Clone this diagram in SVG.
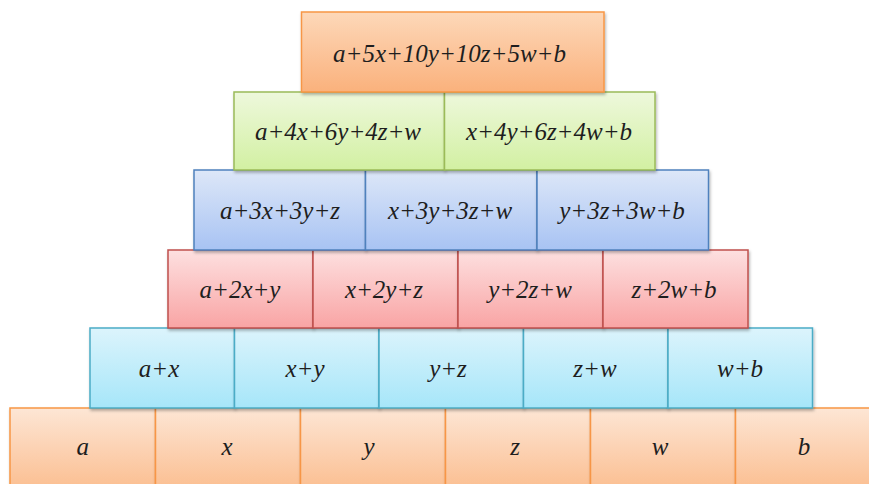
<svg xmlns="http://www.w3.org/2000/svg" width="869" height="484" viewBox="0 0 869 484">
<defs>
<linearGradient id="gOr" x1="0" y1="0" x2="0" y2="1"><stop offset="0" stop-color="#fde6d5"/><stop offset="1" stop-color="#fbbf92"/></linearGradient>
<linearGradient id="gOrTop" x1="0" y1="0" x2="0" y2="1"><stop offset="0" stop-color="#fdd8b9"/><stop offset="1" stop-color="#fab17c"/></linearGradient>
<linearGradient id="gGr" x1="0" y1="0" x2="0" y2="1"><stop offset="0" stop-color="#eef8dc"/><stop offset="1" stop-color="#d2f0a2"/></linearGradient>
<linearGradient id="gBl" x1="0" y1="0" x2="0" y2="1"><stop offset="0" stop-color="#dde7f8"/><stop offset="1" stop-color="#a8c3f3"/></linearGradient>
<linearGradient id="gRd" x1="0" y1="0" x2="0" y2="1"><stop offset="0" stop-color="#fde0e0"/><stop offset="1" stop-color="#f9a4a4"/></linearGradient>
<linearGradient id="gCy" x1="0" y1="0" x2="0" y2="1"><stop offset="0" stop-color="#dcf4fc"/><stop offset="1" stop-color="#a6e6f9"/></linearGradient>
<filter id="sh" x="-5%" y="-5%" width="115%" height="125%"><feDropShadow dx="1" dy="2" stdDeviation="1.5" flood-color="#000" flood-opacity="0.3"/></filter>
</defs>
<style>
rect{stroke-width:1.5;filter:url(#sh)}
.or{fill:url(#gOr);stroke:#f79646}
.ot{fill:url(#gOrTop);stroke:#f79646}
.gr{fill:url(#gGr);stroke:#9bbb59}
.bl{fill:url(#gBl);stroke:#4f81bd}
.rd{fill:url(#gRd);stroke:#c0504d}
.cy{fill:url(#gCy);stroke:#4bacc6}
text{font-family:"Liberation Serif","Times New Roman",serif;font-style:italic;font-size:25px;fill:#1e1e1e;text-anchor:middle}
</style>
<rect width="869" height="484" fill="#fff" style="filter:none;stroke:none"/>
<g id="row6">
<g id="n6a"><rect class="or" x="10" y="408" width="145.5" height="80"/><text x="82.7" y="455">a</text></g>
<g id="n6x"><rect class="or" x="155.5" y="408" width="145" height="80"/><text x="227" y="455">x</text></g>
<g id="n6y"><rect class="or" x="300.5" y="408" width="145" height="80"/><text x="369" y="455">y</text></g>
<g id="n6z"><rect class="or" x="445.5" y="408" width="145" height="80"/><text x="515" y="455">z</text></g>
<g id="n6w"><rect class="or" x="590.5" y="408" width="145" height="80"/><text x="660" y="455">w</text></g>
<g id="n6b"><rect class="or" x="735.5" y="408" width="145" height="80"/><text x="804" y="455">b</text></g>
</g>
<g id="row5">
<g id="n5a"><rect class="cy" x="90" y="328" width="144.5" height="80"/><text x="159" y="377">a+x</text></g>
<g id="n5b"><rect class="cy" x="234.5" y="328" width="144.5" height="80"/><text x="305" y="377">x+y</text></g>
<g id="n5c"><rect class="cy" x="379" y="328" width="144.5" height="80"/><text x="448" y="377">y+z</text></g>
<g id="n5d"><rect class="cy" x="523.5" y="328" width="144.5" height="80"/><text x="595" y="377">z+w</text></g>
<g id="n5e"><rect class="cy" x="668" y="328" width="144.5" height="80"/><text x="740" y="377">w+b</text></g>
</g>
<g id="row4">
<g id="n4a"><rect class="rd" x="168" y="250" width="145" height="78"/><text x="240" y="298">a+2x+y</text></g>
<g id="n4b"><rect class="rd" x="313" y="250" width="145" height="78"/><text x="384" y="298">x+2y+z</text></g>
<g id="n4c"><rect class="rd" x="458" y="250" width="145" height="78"/><text x="530" y="298">y+2z+w</text></g>
<g id="n4d"><rect class="rd" x="603" y="250" width="145" height="78"/><text x="674" y="298">z+2w+b</text></g>
</g>
<g id="row3">
<g id="n3a"><rect class="bl" x="194" y="170" width="171.5" height="80"/><text x="280" y="219">a+3x+3y+z</text></g>
<g id="n3b"><rect class="bl" x="365.5" y="170" width="171.5" height="80"/><text x="450" y="219">x+3y+3z+w</text></g>
<g id="n3c"><rect class="bl" x="537" y="170" width="171.5" height="80"/><text x="622" y="219">y+3z+3w+b</text></g>
</g>
<g id="row2">
<g id="n2a"><rect class="gr" x="234" y="92" width="210.5" height="78"/><text x="338" y="140">a+4x+6y+4z+w</text></g>
<g id="n2b"><rect class="gr" x="444.5" y="92" width="210.5" height="78"/><text x="549" y="140">x+4y+6z+4w+b</text></g>
</g>
<g id="row1">
<g id="n1"><rect class="ot" x="301.5" y="12" width="302.5" height="80"/><text x="449.5" y="62">a+5x+10y+10z+5w+b</text></g>
</g>
<g id="connectors"/>
</svg>
